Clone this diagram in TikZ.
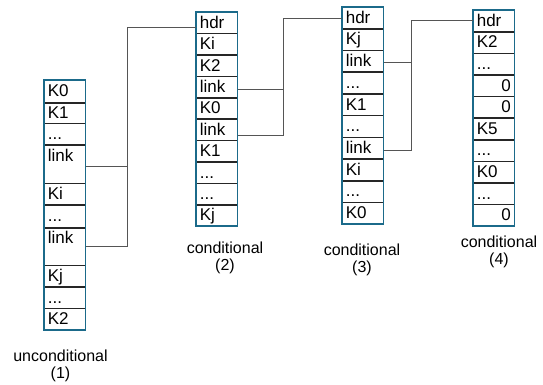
\documentclass[tikz,border=0pt]{standalone}
\usepackage{fontspec}
\setmainfont{Liberation Sans}
\definecolor{framecol}{HTML}{1B6A8A}
\definecolor{wirecol}{HTML}{555555}
\begin{document}
\begin{tikzpicture}[x=1pt,y=-1pt,
  cell/.style={draw=black!85, line width=0.6pt, anchor=north west,
    inner xsep=3.5pt, inner ysep=0pt, minimum width=41pt, text width=34pt,
    text height=16pt, text depth=#1, align=left,
    font=\fontsize{17}{19}\selectfont},
  cell/.default=5pt,
  rcell/.style={cell=#1, align=right},
  rcell/.default=5pt,
  frame/.style={draw=framecol, line width=1.3pt},
  wire/.style={draw=wirecol, line width=0.9pt},
  lab/.style={align=center, anchor=base, inner sep=0pt,
    font=\fontsize{16}{17}\selectfont}]
\useasboundingbox (0,0) rectangle (543,385);

% unconditional table
\node[cell=6pt]  (a1)  at (44,80)          {K0};
\node[cell=4pt]  (a2)  at (a1.south west)  {K1};
\node[cell=5pt]  (a3)  at (a2.south west)  {...};
\node[cell=22pt] (a4)  at (a3.south west)  {link};
\node[cell=5pt]  (a5)  at (a4.south west)  {Ki};
\node[cell=6pt]  (a6)  at (a5.south west)  {...};
\node[cell=21pt] (a7)  at (a6.south west)  {link};
\node[cell=5pt]  (a8)  at (a7.south west)  {Kj};
\node[cell=5pt]  (a9)  at (a8.south west)  {...};
\node[cell=5pt]  (a10) at (a9.south west)  {K2};
\draw[frame] (a1.north west) rectangle (a10.south east);

% conditional table (2)
\node[cell=4.8pt] (b1)  at (196,12)         {hdr};
\node[cell=4.8pt] (b2)  at (b1.south west)  {Ki};
\node[cell=4.8pt] (b3)  at (b2.south west)  {K2};
\node[cell=4.8pt] (b4)  at (b3.south west)  {link};
\node[cell=4.8pt] (b5)  at (b4.south west)  {K0};
\node[cell=4.8pt] (b6)  at (b5.south west)  {link};
\node[cell=4.8pt] (b7)  at (b6.south west)  {K1};
\node[cell=4.8pt] (b8)  at (b7.south west)  {...};
\node[cell=4.8pt] (b9)  at (b8.south west)  {...};
\node[cell=4.8pt] (b10) at (b9.south west)  {Kj};
\draw[frame] (b1.north west) rectangle (b10.south east);

% conditional table (3)
\node[cell=5.1pt] (c1)  at (342,7)          {hdr};
\node[cell=5.1pt] (c2)  at (c1.south west)  {Kj};
\node[cell=5.1pt] (c3)  at (c2.south west)  {link};
\node[cell=5.1pt] (c4)  at (c3.south west)  {...};
\node[cell=5.1pt] (c5)  at (c4.south west)  {K1};
\node[cell=5.1pt] (c6)  at (c5.south west)  {...};
\node[cell=5.1pt] (c7)  at (c6.south west)  {link};
\node[cell=5.1pt] (c8)  at (c7.south west)  {Ki};
\node[cell=5.1pt] (c9)  at (c8.south west)  {...};
\node[cell=5.1pt] (c10) at (c9.south west)  {K0};
\draw[frame] (c1.north west) rectangle (c10.south east);

% conditional table (4)
\node[cell=5pt]  (d1)  at (473,10)         {hdr};
\node[cell=5pt]  (d2)  at (d1.south west)  {K2};
\node[cell=5pt]  (d3)  at (d2.south west)  {...};
\node[rcell=5pt] (d4)  at (d3.south west)  {0};
\node[rcell=5pt] (d5)  at (d4.south west)  {0};
\node[cell=5pt]  (d6)  at (d5.south west)  {K5};
\node[cell=5pt]  (d7)  at (d6.south west)  {...};
\node[cell=5pt]  (d8)  at (d7.south west)  {K0};
\node[cell=5pt]  (d9)  at (d8.south west)  {...};
\node[rcell=5pt] (d10) at (d9.south west)  {0};
\draw[frame] (d1.north west) rectangle (d10.south east);

% links between the tables
\coordinate (j1) at (127,27);
\draw[wire] ([yshift=-2pt]a4.east) -- ([yshift=-2pt]a4.east -| j1);
\draw[wire] (a7.east) -| (j1) -- (j1 -| b1.west);

\coordinate (j2) at (283,18);
\draw[wire] ([yshift=-2.5pt]b4.east) -- ([yshift=-2.5pt]b4.east -| j2);
\draw[wire] ([yshift=-6pt]b6.east) -| (j2) -- (j2 -| c1.west);

\coordinate (j3) at (411,20);
\draw[wire] ([yshift=-1pt]c3.east) -- ([yshift=-1pt]c3.east -| j3);
\draw[wire] ([yshift=-2.5pt]c7.east) -| (j3) -- (j3 -| d1.west);

% captions (anchored at the baseline of the second line)
\node[lab] (l1) at (60.5,378) {unconditional\\(1)};
\node[lab] (l2) at (225,270)  {conditional\\(2)};
\node[lab] (l3) at (362,272)  {conditional\\(3)};
\node[lab] (l4) at (499,264)  {conditional\\(4)};
\end{tikzpicture}
\end{document}
